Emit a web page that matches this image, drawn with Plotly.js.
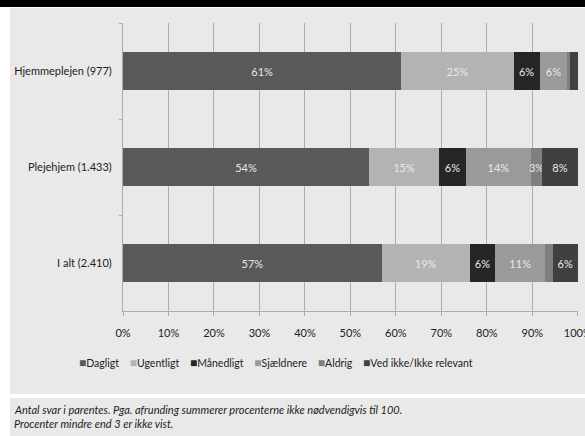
<!DOCTYPE html>
<html>
<head>
<meta charset="utf-8">
<script src="https://cdn.plot.ly/plotly-3.0.1.min.js"></script>
<style>html,body{margin:0;padding:0;background:#fff;}#chart{width:585px;height:436px;}</style>
</head>
<body>
<div id="chart"></div>
<script>
// ---- data ----
var categories = ['Hjemmeplejen (977)', 'Plejehjem (1.433)', 'I alt (2.410)'];
var seriesNames = ['Dagligt', 'Ugentligt', 'Månedligt', 'Sjældnere', 'Aldrig', 'Ved ikke/Ikke relevant'];
var dagligt    = [61.2, 54.1, 56.9];
var ugentligt  = [24.7, 15.4, 19.3];
var maanedligt = [5.7, 5.9, 5.7];
var sjaeldnere = [6.1, 14.3, 10.9];
var aldrig     = [0.5, 2.5, 1.7];
var vedIkke    = [1.8, 7.8, 5.5];
var xTickVals  = [0, 10, 20, 30, 40, 50, 60, 70, 80, 90, 100];
var xTickText  = ['0%', '10%', '20%', '30%', '40%', '50%', '60%', '70%', '80%', '90%', '100%'];
var noteText   = ['Antal svar i parentes. Pga. afrunding summerer procenterne ikke nødvendigvis til 100.',
                  'Procenter mindre end 3 er ikke vist.'];

// ---- styling ----
var seriesValues = [dagligt, ugentligt, maanedligt, sjaeldnere, aldrig, vedIkke];
var colors = ['#595959', '#b3b3b3', '#262626', '#9a9a9a', '#7f7f7f', '#404040'];
var W = 585, H = 436, ML = 123, MR = 7, MT = 23, MB = 125;
var PW = W - ML - MR, PH = H - MT - MB;
function px(x) { return (x - ML) / PW; }
function py(y) { return (H - MB - y) / PH; }
var FONT = 'Lato, "Liberation Sans", sans-serif';

var traces = seriesNames.map(function (name, i) {
  return {
    type: 'bar', orientation: 'h', name: name,
    y: categories, x: seriesValues[i],
    marker: { color: colors[i], line: { width: 0 } },
    text: seriesValues[i].map(function (v) { return v >= 2.5 ? Math.round(v) + '%' : ''; }),
    textposition: 'inside', insidetextanchor: 'middle', textangle: 0,
    constraintext: 'none', cliponaxis: false,
    textfont: { family: FONT, size: 11, color: '#e8e8e8' },
    hoverinfo: 'skip', showlegend: false
  };
});

var legendText = seriesNames.map(function (n, i) {
  return '<span style="color:' + colors[i] + ';font-size:12px">■</span>' + n;
}).join('    ');

var layout = {
  width: W, height: H,
  margin: { l: ML, r: MR, t: MT, b: MB, pad: 0 },
  paper_bgcolor: '#ffffff', plot_bgcolor: 'rgba(0,0,0,0)',
  barmode: 'stack', bargap: 0.6,
  showlegend: false,
  font: { family: FONT, size: 11, color: '#222' },
  xaxis: {
    range: [0, 100.05], tickvals: xTickVals, ticktext: xTickText,
    ticklabeloverflow: 'allow',
    showgrid: true, gridcolor: '#adadad', gridwidth: 1,
    showline: true, linecolor: '#adadad', linewidth: 1,
    ticks: 'outside', ticklen: 4, tickcolor: '#adadad',
    ticklabelstandoff: 8, zeroline: false, fixedrange: true,
    tickfont: { family: FONT, size: 11, color: '#222' }
  },
  yaxis: {
    type: 'category', categoryorder: 'array', categoryarray: categories,
    autorange: 'reversed', tickson: 'boundaries',
    ticks: 'outside', ticklen: 3, tickcolor: '#adadad',
    showline: true, linecolor: '#adadad', showgrid: false, zeroline: false,
    ticklabelstandoff: 8, fixedrange: true,
    tickfont: { family: FONT, size: 11, color: '#222' }
  },
  shapes: [
    { type: 'rect', xref: 'paper', yref: 'paper', layer: 'below',
      x0: px(10), x1: px(W + 5), y0: py(394), y1: py(8),
      fillcolor: '#e9e9e9', line: { width: 0 } },
    { type: 'rect', xref: 'paper', yref: 'paper', layer: 'below',
      x0: px(10), x1: px(W + 5), y0: py(H + 5), y1: py(398),
      fillcolor: '#e9e9e9', line: { width: 0 } },
    { type: 'rect', xref: 'paper', yref: 'paper', layer: 'below',
      x0: px(-5), x1: px(W + 5), y0: py(7), y1: py(-5),
      fillcolor: '#000000', line: { width: 0 } }
  ],
  annotations: [
    { xref: 'paper', yref: 'paper', x: px(275.5), y: py(362), xanchor: 'center', yanchor: 'middle',
      showarrow: false, text: legendText, font: { family: FONT, size: 10.5, color: '#222' } },
    { xref: 'paper', yref: 'paper', x: px(12), y: py(409), xanchor: 'left', yanchor: 'middle',
      showarrow: false, text: '<i>' + noteText[0] + '</i>', font: { family: FONT, size: 11, color: '#222' } },
    { xref: 'paper', yref: 'paper', x: px(12), y: py(423), xanchor: 'left', yanchor: 'middle',
      showarrow: false, text: '<i>' + noteText[1] + '</i>', font: { family: FONT, size: 11, color: '#222' } }
  ]
};

Plotly.newPlot('chart', traces, layout, { displayModeBar: false, staticPlot: true });
</script>
</body>
</html>
